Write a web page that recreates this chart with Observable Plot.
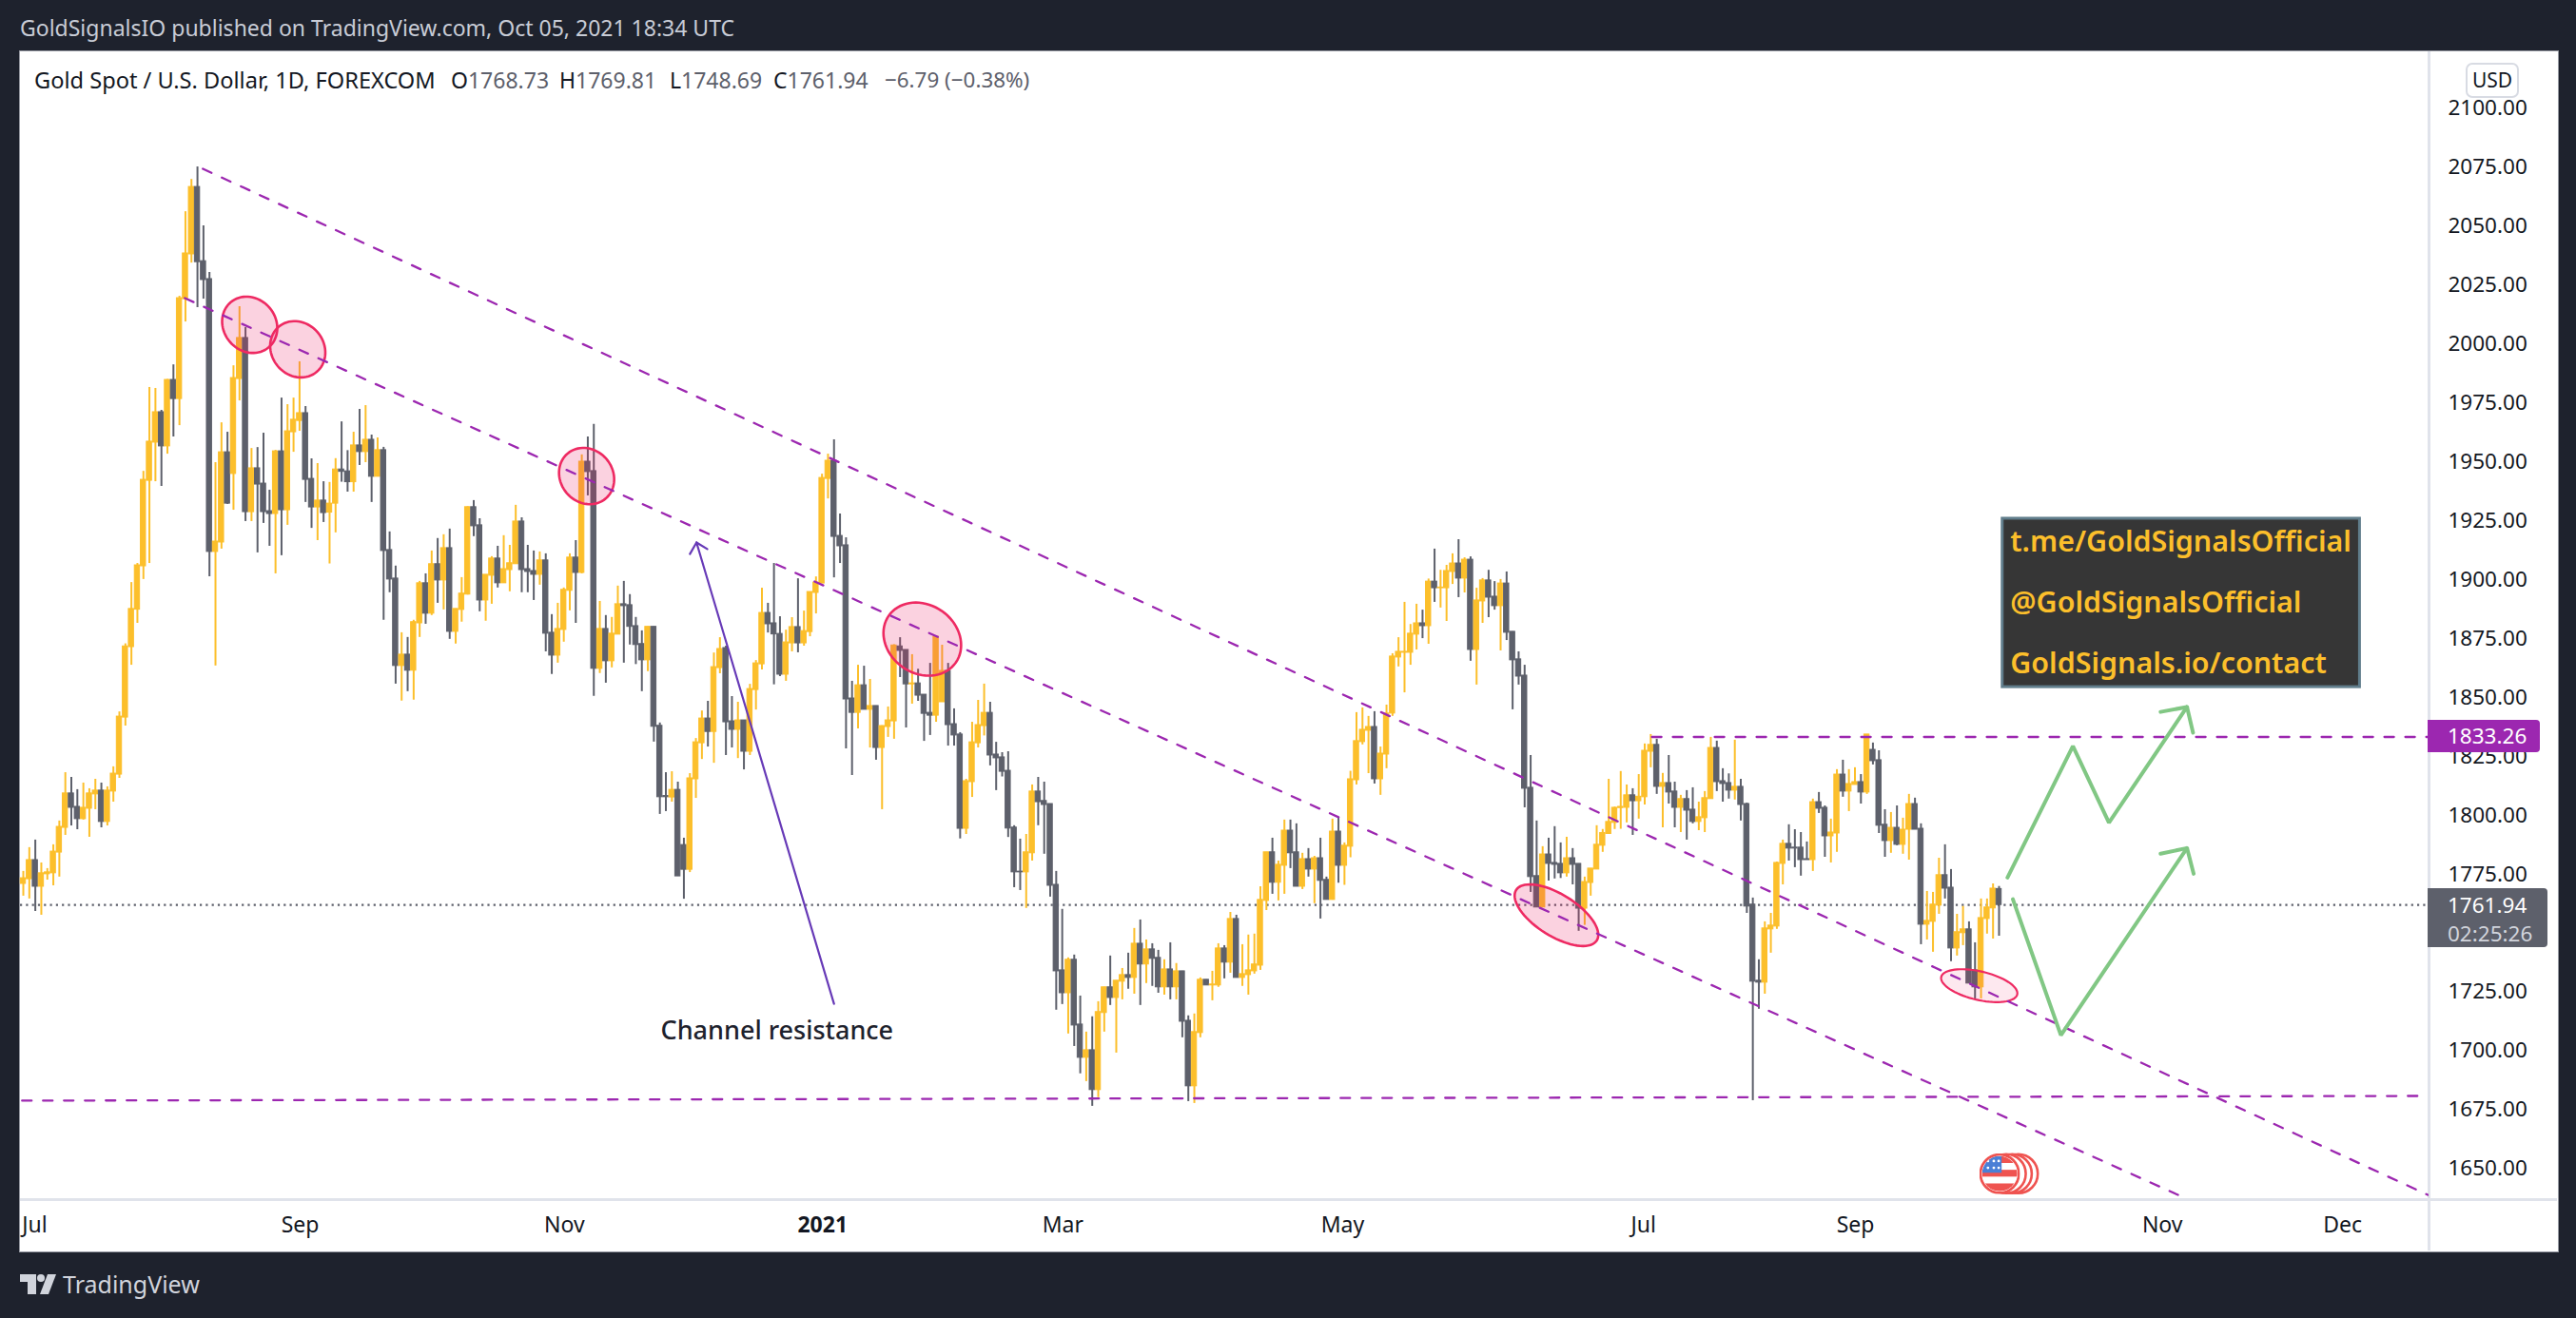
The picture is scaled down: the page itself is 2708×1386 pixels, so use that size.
<!DOCTYPE html>
<html>
<head>
<meta charset="utf-8">
<script src="https://cdn.jsdelivr.net/npm/d3@7"></script>
<script src="https://cdn.jsdelivr.net/npm/@observablehq/plot@0.6"></script>
<style>
html,body{margin:0;padding:0;background:#1e222d;width:2708px;height:1386px;overflow:hidden}
#page{position:relative;width:2708px;height:1386px;font-family:"Noto Sans",sans-serif}
#panel{position:absolute;left:20px;top:53px;width:2668px;height:1262px;background:#fff;border:1px solid #9598a1;box-sizing:content-box}
.abs{position:absolute;white-space:nowrap;line-height:1}
#vdiv{position:absolute;left:2552px;top:54px;width:3px;height:1261px;background:#e0e3eb}
#hdiv{position:absolute;left:21px;top:1260px;width:2667px;height:3px;background:#e0e3eb}
#chart{position:absolute;left:0;top:0}
.tag{position:absolute;color:#fff;font-size:22.5px;box-sizing:border-box;padding-left:21px}
</style>
</head>
<body>
<div id="page">
  <div id="panel"></div>
  <div id="vdiv"></div>
  <div id="hdiv"></div>
  <div id="chart"></div>
  <div class="abs" style="left:21px;top:18px;font-size:23px;color:#c8ccd6">GoldSignalsIO published on TradingView.com, Oct 05, 2021 18:34 UTC</div>
  <div class="abs" style="left:36px;top:73px;font-size:23.6px;color:#131722">Gold Spot / U.S. Dollar, 1D, FOREXCOM</div>
  <div class="abs" style="left:474px;top:73px;font-size:23px;color:#131722">O<span style="color:#5d606b">1768.73</span></div>
  <div class="abs" style="left:588px;top:73px;font-size:23px;color:#131722">H<span style="color:#5d606b">1769.81</span></div>
  <div class="abs" style="left:704px;top:73px;font-size:23px;color:#131722">L<span style="color:#5d606b">1748.69</span></div>
  <div class="abs" style="left:813px;top:73px;font-size:23px;color:#131722">C<span style="color:#5d606b">1761.94</span></div>
  <div class="abs" style="left:930px;top:73px;font-size:22.4px;color:#5d606b">−6.79 (−0.38%)</div>
  <div class="abs" style="left:2592px;top:66px;width:56px;height:37px;box-sizing:border-box;border:2px solid #d8dbe3;border-radius:7px;background:#fff;color:#131722;font-size:21px;text-align:center;line-height:33px">USD</div>
  <div class="tag" style="left:2552px;top:757px;width:118px;height:34px;background:#9c27b0;border-radius:0 4px 4px 0;line-height:34px">1833.26</div>
  <div class="tag" style="left:2552px;top:934px;width:126px;height:62px;background:#5d606b;border-radius:0 4px 4px 0;line-height:30px;padding-top:3px">1761.94<br><span style="color:#d1d4dc">02:25:26</span></div>
  <svg class="abs" style="left:21px;top:1340px" width="38" height="21" viewBox="0 0 38 21"><path fill="#d1d4dc" d="M0 0H17V21H8V8H0Z"/><circle cx="22" cy="4" r="4" fill="#d1d4dc"/><path fill="#d1d4dc" d="M29 0H38L30 21H21Z"/></svg>
  <div class="abs" style="left:66px;top:1338px;font-size:25px;color:#d1d4dc">TradingView</div>
</div>
<script>
// Daily candles, Jul 2020 – Oct 5 2021 (USD)
const open = [
1770.9,1772.9,1781.0,1769.7,1775.0,1775.4,1784.2,1794.7,1809.3,1803.6,
1798.4,1802.8,1808.9,1810.5,1797.2,1810.1,1817.3,1841.5,1871.4,1887.3,
1905.7,1942.0,1958.2,1971.1,1956.6,1984.8,1976.7,2019.1,2038.1,2066.7,
2035.2,2027.6,1911.8,1915.8,1954.1,1944.9,1985.2,2002.6,1928.7,1947.3,
1940.8,1929.1,1927.9,1954.5,1929.5,1962.6,1967.4,1970.7,1942.8,1930.7,
1933.6,1928.5,1932.3,1946.8,1946.0,1941.4,1957.0,1954.2,1959.4,1943.7,
1955.0,1912.6,1900.5,1863.4,1868.2,1861.4,1881.5,1898.5,1885.6,1906.6,
1899.7,1913.4,1877.9,1887.2,1893.7,1930.8,1923.1,1891.2,1901.7,1909.0,
1898.5,1904.1,1906.6,1924.7,1904.5,1903.7,1902.1,1908.2,1877.5,1867.8,
1878.7,1895.3,1909.4,1902.9,1950.1,1946.1,1862.2,1879.1,1865.4,1876.7,
1889.6,1889.2,1880.3,1872.7,1865.8,1880.0,1838.0,1808.2,1807.6,1810.8,
1787.4,1776.9,1815.3,1830.6,1841.1,1835.4,1862.5,1871.0,1839.9,1836.3,
1840.3,1827.0,1853.2,1864.1,1885.9,1881.5,1877.0,1859.7,1873.0,1879.9,
1873.0,1877.8,1894.4,1898.4,1942.8,1950.5,1918.6,1914.6,1849.6,1843.5,
1855.2,1844.8,1846.4,1828.6,1837.5,1839.9,1871.7,1870.2,1855.6,1856.0,
1851.2,1843.5,1842.3,1848.0,1861.3,1838.7,1834.3,1794.3,1814.1,1830.6,
1837.9,1843.5,1825.8,1824.6,1818.9,1794.8,1776.1,1775.8,1783.9,1810.1,
1806.1,1804.8,1770.5,1734.2,1724.5,1738.7,1711.2,1697.1,1700.3,1683.4,
1716.1,1727.0,1722.5,1729.4,1732.2,1731.0,1745.5,1736.7,1743.1,1739.5,
1727.0,1734.6,1727.0,1733.8,1712.8,1685.0,1707.6,1730.2,1727.8,1727.8,
1743.5,1737.5,1756.0,1731.0,1732.2,1733.8,1736.2,1763.7,1784.3,1771.4,
1778.6,1793.5,1784.3,1769.7,1781.4,1777.0,1781.8,1772.6,1764.1,1793.1,
1778.6,1786.7,1814.9,1831.1,1835.9,1837.5,1815.3,1825.8,1843.2,1867.0,
1869.0,1869.0,1876.7,1881.5,1880.3,1899.2,1896.4,1896.4,1903.3,1906.9,
1900.5,1908.5,1870.2,1890.8,1899.7,1892.8,1888.8,1898.4,1877.9,1866.2,
1859.3,1811.7,1774.2,1760.9,1783.4,1779.8,1779.4,1775.4,1781.8,1779.4,
1760.4,1771.3,1777.0,1787.1,1792.1,1796.8,1803.1,1803.2,1808.5,1806.0,
1807.7,1827.0,1829.9,1812.1,1813.7,1810.1,1803.2,1806.9,1802.4,1797.2,
1798.8,1806.9,1828.6,1814.5,1813.7,1810.5,1812.1,1804.8,1762.1,1729.8,
1729.0,1751.6,1752.8,1779.4,1787.9,1786.3,1786.3,1781.4,1781.0,1805.6,
1803.2,1791.1,1792.3,1817.3,1810.1,1812.9,1814.1,1809.7,1827.8,1823.4,
1796.0,1789.1,1794.7,1787.5,1793.9,1804.8,1794.3,1753.6,1754.8,1761.7,
1774.6,1769.3,1743.5,1750.0,1751.6,1734.2,1727.0,1756.0,1760.5,1768.73];
const high = [
1776.2,1786.3,1789.5,1779.8,1777.4,1787.5,1797.6,1818.1,1816.1,1810.9,
1813.7,1811.3,1815.3,1813.7,1812.1,1820.6,1843.9,1872.8,1898.8,1906.9,
1946.0,1981.6,1981.2,1971.9,1985.0,1991.2,2020.3,2056.2,2069.9,2075.2,
2050.2,2030.4,1949.7,1966.6,1962.6,1990.8,2015.9,2007.0,1955.7,1956.1,
1962.2,1938.0,1954.9,1977.1,1974.3,1977.1,1992.5,1973.5,1951.3,1949.3,
1941.6,1941.3,1951.4,1967.0,1954.8,1962.6,1972.3,1973.9,1961.4,1960.2,
1956.2,1920.3,1905.8,1877.5,1875.5,1882.8,1899.3,1902.5,1912.2,1917.5,
1919.1,1921.5,1887.6,1900.9,1931.0,1933.6,1925.9,1902.1,1909.8,1914.2,
1918.7,1914.6,1931.6,1926.3,1914.6,1912.2,1911.8,1911.0,1885.2,1890.0,
1896.5,1911.0,1916.6,1953.0,1960.6,1965.9,1890.8,1884.8,1884.0,1897.3,
1899.3,1893.7,1884.0,1878.3,1880.0,1880.0,1839.2,1818.1,1818.5,1814.1,
1790.3,1817.7,1832.6,1844.3,1848.4,1868.9,1875.4,1871.8,1850.4,1848.0,
1840.3,1855.6,1865.7,1896.4,1890.0,1906.9,1884.3,1878.6,1883.9,1900.4,
1886.7,1894.8,1901.2,1944.8,1953.3,1959.4,1927.9,1917.8,1856.9,1863.7,
1863.3,1857.7,1846.4,1838.0,1846.0,1872.4,1875.4,1870.2,1868.2,1862.0,
1851.2,1864.5,1875.8,1872.2,1864.5,1845.2,1835.1,1815.3,1839.5,1848.8,
1855.7,1848.0,1831.0,1826.6,1827.0,1795.6,1789.9,1791.9,1812.9,1816.1,
1814.1,1804.8,1776.2,1760.1,1739.5,1740.7,1723.3,1708.0,1714.5,1720.9,
1727.0,1740.3,1729.8,1735.0,1741.5,1752.0,1755.6,1747.1,1745.5,1742.7,
1738.7,1745.9,1737.1,1733.8,1714.9,1715.7,1731.0,1730.2,1733.8,1745.5,
1744.7,1758.8,1757.6,1745.1,1749.2,1749.6,1769.7,1784.3,1790.3,1780.6,
1798.0,1798.0,1796.4,1783.9,1785.9,1782.6,1790.3,1773.8,1798.4,1799.0,
1788.3,1818.7,1843.6,1845.6,1842.0,1844.0,1829.0,1846.8,1868.6,1875.4,
1890.4,1881.0,1889.6,1887.1,1900.3,1913.0,1904.0,1906.1,1911.0,1917.0,
1909.3,1909.7,1896.4,1900.5,1904.0,1899.2,1900.1,1903.3,1877.9,1869.4,
1863.7,1825.4,1797.6,1786.7,1790.3,1795.2,1788.3,1790.7,1785.9,1779.4,
1773.8,1777.4,1795.6,1794.0,1815.3,1803.5,1818.6,1812.9,1811.3,1817.3,
1830.3,1834.3,1832.3,1817.8,1825.4,1814.1,1808.5,1810.5,1811.7,1805.6,
1810.1,1833.1,1831.5,1819.8,1817.6,1831.9,1815.3,1805.2,1764.9,1738.7,
1754.8,1758.4,1780.2,1789.5,1796.0,1793.9,1792.7,1788.7,1806.9,1809.7,
1804.0,1798.4,1819.4,1823.4,1819.4,1820.2,1817.3,1834.3,1830.7,1827.4,
1802.4,1801.2,1804.0,1798.8,1808.9,1807.3,1796.4,1767.7,1767.3,1781.8,
1787.5,1777.0,1758.0,1761.3,1754.8,1745.9,1764.5,1764.5,1770.9,1769.81];
const low = [
1765.7,1764.5,1759.2,1757.6,1772.5,1770.1,1773.8,1791.5,1795.5,1793.9,
1798.0,1790.7,1802.4,1794.7,1795.5,1805.6,1815.7,1837.9,1863.7,1881.5,
1900.1,1906.9,1941.6,1939.6,1953.3,1960.6,1965.4,2009.4,2034.4,2015.5,
2019.1,1901.3,1863.4,1913.0,1932.0,1929.5,1975.9,1924.7,1924.7,1911.4,
1923.9,1914.2,1902.5,1910.2,1923.1,1954.1,1963.0,1932.8,1921.8,1916.6,
1924.3,1906.7,1919.9,1941.4,1937.2,1937.2,1948.5,1949.7,1932.8,1943.7,
1882.8,1894.5,1855.7,1848.5,1852.5,1848.9,1875.5,1881.1,1884.8,1890.0,
1887.2,1874.7,1872.7,1882.0,1893.5,1918.3,1886.4,1882.4,1889.6,1896.5,
1898.5,1894.9,1906.6,1894.5,1894.5,1891.2,1897.7,1869.4,1859.8,1864.6,
1873.5,1886.8,1881.5,1902.5,1935.6,1850.5,1860.2,1856.1,1862.6,1876.7,
1864.6,1872.3,1864.0,1852.5,1861.0,1831.1,1800.4,1801.6,1805.6,1774.1,
1764.4,1775.7,1807.2,1823.7,1829.0,1822.1,1860.1,1825.4,1828.6,1824.1,
1819.3,1825.4,1844.7,1861.7,1877.4,1855.4,1858.9,1856.9,1869.4,1869.0,
1871.8,1875.8,1885.5,1898.4,1934.3,1900.8,1906.9,1828.2,1816.9,1836.7,
1844.8,1828.6,1823.4,1802.4,1833.1,1832.3,1858.5,1837.1,1847.2,1848.4,
1831.4,1833.9,1839.5,1848.0,1829.4,1829.4,1790.0,1791.9,1807.6,1828.6,
1833.7,1821.0,1810.5,1816.3,1790.6,1769.3,1768.1,1760.5,1780.6,1795.6,
1783.5,1765.3,1717.3,1719.7,1707.2,1701.9,1690.3,1687.0,1676.5,1680.2,
1708.0,1719.3,1699.1,1721.7,1726.2,1724.1,1719.3,1728.6,1727.4,1724.5,
1723.7,1721.7,1721.7,1705.6,1678.5,1677.7,1705.6,1727.8,1721.3,1727.0,
1730.6,1733.0,1731.0,1727.4,1723.7,1732.6,1734.2,1759.6,1766.5,1763.7,
1766.5,1777.4,1769.7,1768.5,1773.8,1762.5,1756.0,1764.1,1764.0,1771.2,
1770.3,1782.0,1812.9,1829.9,1817.7,1813.3,1808.5,1819.8,1842.0,1863.0,
1852.0,1863.7,1870.2,1875.0,1872.6,1890.4,1888.0,1882.3,1898.0,1892.4,
1894.4,1865.4,1855.3,1881.5,1883.9,1887.1,1869.8,1874.2,1844.8,1855.3,
1803.2,1767.3,1760.9,1760.9,1772.1,1773.0,1773.2,1773.8,1770.5,1750.8,
1753.3,1765.7,1777.0,1784.3,1792.0,1794.0,1794.1,1796.8,1791.5,1798.4,
1804.4,1820.2,1808.9,1794.7,1804.8,1794.7,1792.7,1789.5,1796.4,1793.5,
1792.7,1806.9,1810.1,1805.6,1806.9,1806.5,1797.6,1758.4,1678.9,1717.7,
1724.1,1741.5,1751.6,1770.5,1780.6,1777.8,1774.2,1781.0,1776.2,1800.8,
1782.2,1779.8,1784.3,1807.7,1801.6,1812.9,1804.8,1808.9,1821.4,1792.3,
1782.2,1783.9,1787.1,1783.5,1781.0,1793.9,1745.1,1747.1,1741.9,1758.0,
1764.5,1737.9,1740.3,1744.7,1728.6,1721.7,1722.1,1749.6,1747.5,1748.69];
const close = [
1773.3,1781.0,1769.7,1775.4,1775.8,1784.6,1795.1,1809.3,1803.2,1798.4,
1803.2,1809.3,1810.5,1797.2,1810.5,1817.7,1841.9,1871.7,1887.6,1906.1,
1942.4,1958.6,1971.1,1956.6,1984.8,1976.7,2019.5,2038.5,2066.7,2034.8,
2027.2,1911.8,1916.2,1954.1,1932.3,1985.6,2002.6,1928.7,1947.3,1940.4,
1928.7,1927.9,1954.5,1929.5,1963.0,1967.9,1970.7,1942.4,1930.7,1933.6,
1928.3,1932.3,1946.8,1945.8,1941.4,1957.0,1954.2,1959.4,1943.7,1955.0,
1912.2,1900.1,1863.4,1868.2,1861.4,1882.0,1898.5,1885.6,1906.6,1899.7,
1913.4,1877.9,1887.6,1894.1,1930.8,1922.7,1891.2,1902.1,1909.0,1898.5,
1904.5,1907.0,1924.7,1904.1,1903.3,1902.1,1908.2,1877.1,1867.8,1879.1,
1895.7,1909.4,1902.9,1950.1,1945.7,1862.2,1879.1,1865.4,1877.1,1889.6,
1888.8,1880.0,1872.3,1865.8,1880.0,1837.6,1807.7,1807.7,1810.8,1774.1,
1776.9,1815.7,1831.0,1841.1,1835.4,1862.9,1870.6,1839.5,1836.3,1840.3,
1827.0,1853.6,1864.5,1885.9,1881.1,1876.8,1859.7,1873.4,1879.9,1873.0,
1878.2,1894.8,1898.8,1943.2,1950.5,1918.2,1914.2,1849.2,1843.5,1855.2,
1844.8,1846.4,1828.6,1837.9,1840.3,1872.1,1869.8,1855.6,1856.0,1850.8,
1843.1,1842.3,1875.8,1861.3,1838.3,1833.9,1794.3,1814.5,1831.0,1838.3,
1843.5,1825.4,1824.2,1818.5,1794.4,1775.8,1775.8,1784.3,1810.1,1805.6,
1804.4,1770.1,1733.8,1724.5,1738.7,1710.8,1697.1,1700.3,1683.4,1716.5,
1727.0,1722.5,1729.8,1732.2,1731.0,1745.5,1736.7,1743.1,1739.1,1727.0,
1734.6,1727.0,1733.8,1712.4,1685.0,1708.0,1730.2,1727.8,1728.2,1743.5,
1737.5,1756.0,1731.0,1732.6,1734.2,1736.7,1764.1,1784.3,1771.4,1779.0,
1793.5,1783.9,1769.7,1781.4,1777.0,1781.8,1772.2,1764.1,1793.1,1778.6,
1787.1,1815.3,1831.5,1836.3,1837.5,1815.3,1826.2,1843.2,1867.4,1869.4,
1869.4,1877.1,1881.5,1880.3,1899.2,1896.4,1896.7,1903.7,1906.9,1900.5,
1908.5,1870.2,1891.2,1899.7,1892.4,1888.8,1898.4,1877.5,1865.8,1858.9,
1811.3,1773.8,1760.9,1783.4,1779.4,1779.0,1775.4,1781.8,1779.0,1760.4,
1771.7,1777.4,1787.5,1792.5,1797.2,1803.2,1803.6,1808.5,1806.0,1807.9,
1827.4,1829.9,1812.1,1813.7,1809.7,1803.2,1806.9,1802.0,1797.2,1799.2,
1807.3,1828.6,1814.1,1813.3,1810.5,1812.1,1804.4,1761.3,1729.4,1729.0,
1752.0,1753.2,1779.8,1787.9,1785.9,1785.9,1781.0,1781.0,1805.6,1802.8,
1791.1,1792.7,1817.3,1810.1,1813.3,1814.1,1809.7,1834.3,1823.0,1795.6,
1789.1,1794.7,1787.5,1793.9,1804.8,1793.9,1753.6,1755.2,1762.1,1774.6,
1768.9,1743.5,1750.4,1751.6,1728.6,1727.0,1756.4,1760.9,1768.9,1761.94];

// Axis
const priceTicks = [2100,2075,2050,2025,2000,1975,1950,1925,1900,1875,1850,1825,1800,1775,1725,1700,1675,1650];
const monthBars = [1.9,46.1,90.1,173.1,219.7,269.8,305.1,356.2,386.2];
const monthLabels = ["Jul","Sep","Nov","Mar","May","Jul","Sep","Nov","Dec"];
const yearBars = [133.1];
const yearLabels = ["2021"];

// Drawn annotations, as [bar, price] pairs
const channelUpper = [[29.9,2074.4],[400.4,1638.9]];
const channelLower = [[26.9,2019.5],[358.8,1638.9]];
const resistance = [[271.2,1833.26],[400.4,1833.26]];
const support = [[-0.2,1678.9],[398.9,1680.9]];
const lastPrice = 1761.94;
const pointerShaft = [[135.0,1720.0],[112.1,1915.8]];
const pointerHead = [[111.0,1910.9],[112.1,1915.8],[113.9,1913.0]];
const greenUp = [[330.4,1773.6],[341.3,1829.4],[347.3,1796.9],[360.3,1846.0]];
const greenUpHead = [[355.9,1843.9],[360.3,1846.0],[361.3,1835.1]];
const greenDown = [[331.3,1764.4],[339.3,1706.7],[360.3,1786.1]];
const greenDownHead = [[355.9,1783.7],[360.3,1786.1],[361.4,1775.2]];
const ellipseBars = [37.7,45.7,93.8,149.7,255.3,325.7];
const ellipsePrices = [2008.2,1997.8,1944.0,1874.8,1757.6,1727.7];
const boxBars = [329.6,389.1];
const boxPrices = [1854.4,1925.9];
const boxLines = ["t.me/GoldSignalsOfficial","@GoldSignalsOfficial","GoldSignals.io/contact"];
const boxLinePrices = [1915.8,1890.2,1864.3];
const calloutText = "Channel resistance";
const calloutAt = [125.5,1708.3];
const eventBars = [332.2,331.2,330.2];
const eventPrice = 1647.9;

const candles = open.map((o,i)=>({i,o,h:high[i],l:low[i],c:close[i],up:close[i]>=o}));
const GOLD="#fcbf2b", GRAY="#5d606b", PURPLE="#9c27b0", GREEN="#81c784", PINK="#ee2a62";
const colour = d=>d.up?GOLD:GRAY;

function ellipse(a,b,deg){
  const t=deg*Math.PI/180, c=Math.cos(t), s=Math.sin(t);
  return {draw(ctx){
    for(let k=0;k<72;k++){
      const u=k/72*2*Math.PI, x=a*Math.cos(u), y=b*Math.sin(u);
      const px=x*c-y*s, py=x*s+y*c;
      k?ctx.lineTo(px,py):ctx.moveTo(px,py);
    }
    ctx.closePath();
  }};
}
const ellipseShapes = [
  {shape:ellipse(31,27.5,50),fo:.2,sw:2.6},
  {shape:ellipse(31,27.5,50),fo:.2,sw:2.6},
  {shape:ellipse(31,27.5,50),fo:.2,sw:2.6},
  {shape:ellipse(43,36,35),fo:.2,sw:2.6},
  {shape:ellipse(50,22,32),fo:.2,sw:2.6},
  {shape:ellipse(41,15,13),fo:.1,sw:2.2}
];
const ellipseMarks = ellipseShapes.map((e,i)=>Plot.dot([0],{
  x:()=>ellipseBars[i], y:()=>ellipsePrices[i], symbol:e.shape,
  fill:"#e91e63", fillOpacity:e.fo, stroke:PINK, strokeWidth:e.sw
}));

const path = (pts,opts)=>Plot.line(pts,{x:d=>d[0],y:d=>d[1],...opts});

const flag = "data:image/svg+xml;utf8,"+encodeURIComponent(
 '<svg xmlns="http://www.w3.org/2000/svg" viewBox="0 0 42 42"><defs><clipPath id="c"><circle cx="21" cy="21" r="18"/></clipPath></defs>'+
 '<circle cx="21" cy="21" r="19.7" fill="#fff" stroke="#ef5350" stroke-width="2.6"/>'+
 '<g clip-path="url(#c)"><rect width="42" height="42" fill="#fff"/><rect y="3" width="42" height="7" fill="#ef5350"/><rect y="17" width="42" height="7" fill="#ef5350"/><rect y="31" width="42" height="8" fill="#ef5350"/>'+
 '<rect x="3" y="3" width="20" height="17" fill="#4a7fd6"/>'+
 '<g fill="#fff"><circle cx="9" cy="8" r="1.4"/><circle cx="15" cy="8" r="1.4"/><circle cx="20" cy="8" r="1.4"/><circle cx="9" cy="15" r="1.4"/><circle cx="15" cy="15" r="1.4"/><circle cx="20" cy="15" r="1.4"/></g></g></svg>');

const DASH="10 12";
const chart = Plot.plot({
  width:2708, height:1386,
  marginLeft:21, marginRight:155, marginTop:54, marginBottom:125,
  style:{background:"transparent",fontFamily:'"Noto Sans",sans-serif',color:"#131722"},
  x:{type:"linear",domain:[-0.475,400.6],axis:null},
  y:{type:"linear",domain:[1636.9,2124.06],axis:null},
  marks:[
    Plot.axisY({anchor:"right",ticks:priceTicks,tickSize:0,tickPadding:20,tickFormat:d=>d.toFixed(2),fontSize:22.5,label:null}),
    Plot.axisX({anchor:"bottom",ticks:monthBars,tickSize:0,tickPadding:18,fontSize:23,label:null,
      tickFormat:d=>monthLabels[monthBars.indexOf(d)]}),
    Plot.axisX({anchor:"bottom",ticks:yearBars,tickSize:0,tickPadding:18,fontSize:23,fontWeight:700,label:null,
      tickFormat:d=>yearLabels[yearBars.indexOf(d)]}),
    Plot.ruleY([lastPrice],{stroke:GRAY,strokeWidth:2.2,strokeDasharray:"2.2 4.1"}),
    Plot.ruleX(candles,{x:"i",y1:"l",y2:"h",stroke:colour,strokeWidth:2}),
    Plot.rect(candles,{x1:d=>d.i-0.43,x2:d=>d.i+0.43,y1:"o",y2:"c",fill:colour,stroke:colour,strokeWidth:1}),
    ...ellipseMarks,
    path(channelUpper,{stroke:PURPLE,strokeWidth:2.3,strokeDasharray:DASH,clip:true}),
    path(channelLower,{stroke:PURPLE,strokeWidth:2.3,strokeDasharray:DASH,clip:true}),
    path(resistance,{stroke:PURPLE,strokeWidth:2.3,strokeDasharray:DASH}),
    path(support,{stroke:PURPLE,strokeWidth:2.3,strokeDasharray:DASH}),
    path(pointerShaft,{stroke:"#673ab7",strokeWidth:2.2}),
    path(pointerHead,{stroke:"#673ab7",strokeWidth:2.2}),
    path(greenUp,{stroke:GREEN,strokeWidth:4,strokeLinejoin:"miter"}),
    path(greenUpHead,{stroke:GREEN,strokeWidth:4,strokeLinejoin:"miter"}),
    path(greenDown,{stroke:GREEN,strokeWidth:4,strokeLinejoin:"miter"}),
    path(greenDownHead,{stroke:GREEN,strokeWidth:4,strokeLinejoin:"miter"}),
    Plot.dot(eventBars,{x:d=>d,y:()=>eventPrice,r:20.5,fill:"#fff",stroke:"#ef5350",strokeWidth:2.6}),
    Plot.image([329.1],{x:d=>d,y:()=>eventPrice,width:43,height:43,src:()=>flag}),
    Plot.rect([0],{x1:()=>boxBars[0],x2:()=>boxBars[1],y1:()=>boxPrices[0],y2:()=>boxPrices[1],fill:"#363636",stroke:"#607d8b",strokeWidth:3}),
    Plot.text(boxLines,{x:()=>boxBars[0],y:(d,i)=>boxLinePrices[i],text:d=>d,textAnchor:"start",dx:8,fill:"#fcbf2b",fontSize:30.4,fontWeight:600}),
    Plot.text([calloutText],{x:()=>calloutAt[0],y:()=>calloutAt[1],text:d=>d,fill:"#1e222d",fontSize:27,fontWeight:500})
  ]
});
document.getElementById("chart").appendChild(chart);
</script>
</body>
</html>
